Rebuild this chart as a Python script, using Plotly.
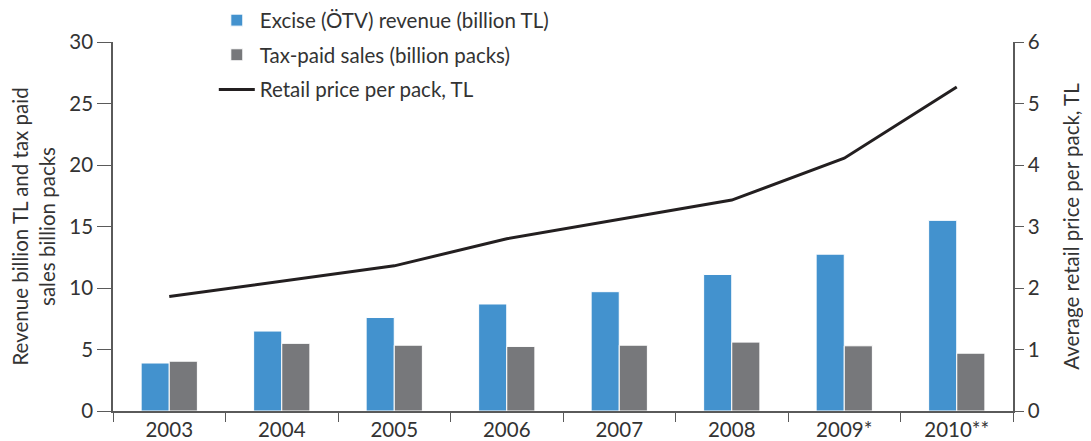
import plotly.graph_objects as go

years = ["2003", "2004", "2005", "2006", "2007", "2008", "2009*", "2010**"]
excise_revenue = [3.9, 6.5, 7.6, 8.7, 9.7, 11.1, 12.75, 15.5]
taxpaid_sales = [4.05, 5.5, 5.35, 5.25, 5.35, 5.6, 5.3, 4.7]
retail_price = [1.86, 2.11, 2.36, 2.80, 3.12, 3.43, 4.11, 5.27]

FONT = "Lato"
TXT = "#333333"
AXIS = "#5a5a5a"
FS = 20.5

fig = go.Figure()
fig.add_trace(go.Bar(
    x=years, y=excise_revenue, name="Excise (ÖTV) revenue (billion TL)",
    marker=dict(color="#4392CE", line=dict(color="white", width=1)),
    legendgroup="a",
))
fig.add_trace(go.Bar(
    x=years, y=taxpaid_sales, name="Tax-paid sales (billion packs)",
    marker=dict(color="#77787B", line=dict(color="white", width=1)),
    legendgroup="b",
))
fig.add_trace(go.Scatter(
    x=years, y=retail_price, name="Retail price per pack, TL", yaxis="y2",
    mode="lines", line=dict(color="#231F20", width=3),
    legendgroup="c",
))

# page body has an 8px margin, so the figure is a bit smaller than the window
fig.update_layout(
    width=1083, height=433,
    margin=dict(l=105, r=78, t=34, b=30, autoexpand=False),
    paper_bgcolor="white", plot_bgcolor="white",
    font=dict(family=FONT, size=FS, color=TXT),
    barmode="group", bargap=0.5, bargroupgap=0,
    showlegend=True,
    legend=dict(
        x=0.112, y=1.113, xanchor="left", yanchor="top",
        traceorder="grouped", tracegroupgap=5, itemwidth=36,
        font=dict(size=FS, color=TXT), bgcolor="rgba(0,0,0,0)",
    ),
    xaxis=dict(
        showline=True, linecolor=AXIS, linewidth=1.5, automargin=False,
        ticks="outside", tickson="boundaries", ticklen=9, tickcolor=AXIS,
        showgrid=False, tickfont=dict(size=FS),
    ),
    yaxis=dict(
        range=[0, 30], dtick=5, showline=True, linecolor=AXIS, linewidth=1.5,
        automargin=False,
        ticks="outside", ticklen=14, tickcolor=AXIS, showgrid=False, zeroline=False,
        tickfont=dict(size=FS),
        title=dict(text="Revenue billion TL and tax paid<br>sales billion packs",
                   font=dict(size=FS), standoff=12),
    ),
    yaxis2=dict(
        range=[0, 6], dtick=1, overlaying="y", side="right",
        showline=True, linecolor=AXIS, linewidth=1.5, automargin=False,
        ticks="outside", ticklen=9, tickcolor=AXIS, showgrid=False, zeroline=False,
        tickfont=dict(size=FS),
        title=dict(text="Average retail price per pack, TL", font=dict(size=FS), standoff=26),
    ),
)

fig.write_html("out.html")
